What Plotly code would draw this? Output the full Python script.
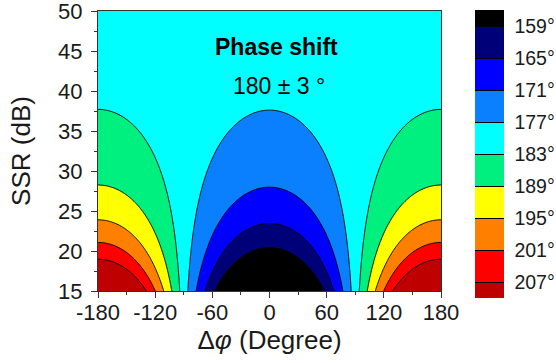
import numpy as np
import plotly.graph_objects as go

# ---- values ----
dphi_ticks = [-180, -120, -60, 0, 60, 120, 180]
dphi_tick_text = ["-180", "-120", "-60", "0", "60", "120", "180"]
ssr_ticks = [15, 20, 25, 30, 35, 40, 45, 50]
levels = [159, 165, 171, 177, 183, 189, 195, 201, 207]
level_labels = ["159°", "165°", "171°", "177°", "183°", "189°", "195°", "201°", "207°"]
# band colours from the lowest band (<159) to the highest (>207)
band_colors = ["#000000", "#000078", "#0000FF", "#0A80FF", "#00FFFF",
               "#00F080", "#FFFF00", "#FF8000", "#FF0000", "#BE0000"]
# phase-error model (deg per unit amplitude ratio)
gain_deg = 229.0
compress = 0.4
nominal = 180.0

# ---- grid ----
dphi = np.linspace(-180, 180, 361)
ssr = np.linspace(15, 50, 351)
P, S = np.meshgrid(dphi, ssr)
r = 10 ** (-S / 20.0)
c = np.cos(np.radians(P))
z = nominal - gain_deg * r * c / (1 + compress * r * c)

# negate so the colour bar runs with the lowest value on top, as in the reference
zneg = -z
colors_rev = band_colors[::-1]
n = len(colors_rev)
colorscale = [[i / (n - 1), col] for i, col in enumerate(colors_rev)]

FONT = "Liberation Sans, Arial, sans-serif"
TXT = "#1a1a1a"

fig = go.Figure(go.Contour(
    x=dphi, y=ssr, z=zneg,
    contours=dict(start=-levels[-1], end=-levels[0], size=levels[1] - levels[0], coloring="fill"),
    colorscale=colorscale,
    line=dict(color="black", width=1),
    hoverinfo="skip",
    colorbar=dict(
        x=1.099, xanchor="left", xpad=0, y=1.004, yanchor="top", ypad=0,
        len=288, lenmode="pixels", thickness=29, thicknessmode="pixels",
        outlinewidth=0, tickvals=[-l for l in levels], ticktext=level_labels,
        ticks="outside", ticklen=7, tickcolor="rgba(0,0,0,0)",
        tickfont=dict(family=FONT, size=19.5, color=TXT),
    ),
))

fig.add_annotation(x=0.519, y=0.926, xref="paper", yref="paper", text="<b>Phase shift</b>",
                   showarrow=False, font=dict(family=FONT, size=23, color="black"))
fig.add_annotation(x=0.528, y=0.785, xref="paper", yref="paper", text="180 ± 3 °",
                   showarrow=False, font=dict(family=FONT, size=23, color="black"))

fig.update_layout(
    width=556, height=363,
    margin=dict(l=98, r=115, t=11, b=72, autoexpand=False),
    paper_bgcolor="white", plot_bgcolor="white",
    font=dict(family=FONT, size=22, color=TXT),
    xaxis=dict(range=[-180, 180], tickvals=dphi_ticks, ticktext=dphi_tick_text,
               ticks="outside", ticklen=6, ticklabelstandoff=-4, ticklabeloverflow="allow",
               tickcolor="#333", showline=True, linecolor="#333", linewidth=1, mirror=True,
               showgrid=False, zeroline=False, automargin=False,
               minor=dict(dtick=30, ticks="outside", ticklen=3, tickcolor="#333"),
               title=dict(text="Δ<i>φ</i> (Degree)", standoff=2)),
    yaxis=dict(range=[15, 50], tickvals=ssr_ticks, ticks="outside", ticklen=6,
               ticklabelstandoff=4, ticklabeloverflow="allow",
               tickcolor="#333", showline=True, linecolor="#333", linewidth=1, mirror=True,
               showgrid=False, zeroline=False, automargin=False,
               minor=dict(dtick=2.5, ticks="outside", ticklen=3, tickcolor="#333"),
               title=dict(text="SSR (dB)", standoff=20)),
)

fig.write_html("out.html")
